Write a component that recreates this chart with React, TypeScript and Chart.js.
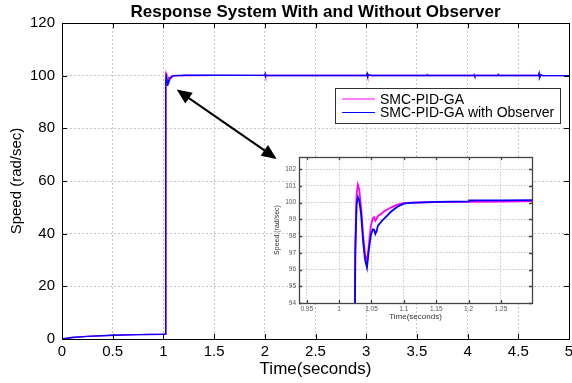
import React, { useEffect, useRef } from "react";
import { Chart, registerables } from "chart.js";

Chart.register(...registerables);

// ---- data ----
const timeSec = [
  0, 0.1, 0.25, 0.5, 0.75, 1.0, 1.02, 1.022, 1.025, 1.027, 1.029, 1.031, 1.034, 1.037, 1.04,
  1.043, 1.046, 1.049, 1.052, 1.054, 1.056, 1.058, 1.06, 1.063, 1.066, 1.07, 1.075, 1.08,
  1.09, 1.1, 1.11, 1.15, 1.2, 1.201, 1.25, 1.3, 1.5, 2.0, 2.004, 2.008, 2.015, 3.0, 3.01,
  3.015, 3.025, 3.05, 3.6, 3.605, 3.61, 4.06, 4.065, 4.07, 4.08, 4.3, 4.305, 4.31, 4.7,
  4.705, 4.71, 4.72, 4.74, 5.0,
];
const speedGA = [
  0, 0.55, 1.0, 1.4, 1.65, 1.82, 1.9, 80, 97.6, 100.5, 101.07, 100.8, 99.7, 98.1, 96.9,
  96.47, 97.5, 98.6, 99.05, 99.13, 98.92, 99.05, 99.2, 99.27, 99.36, 99.48, 99.6, 99.7,
  99.87, 99.97, 100.0, 100.02, 100.04, 100.04, 100.06, 100.08, 100.1, 100.1, 100.5, 99.8,
  100.05, 100.05, 100.6, 99.7, 100.2, 100.05, 100.05, 100.2, 100.05, 100.05, 100.3, 99.85,
  100.05, 100.05, 100.25, 100.05, 100.05, 100.7, 99.4, 100.2, 100.0, 100.0,
];
const speedObserver = [
  0, 0.55, 1.0, 1.4, 1.65, 1.82, 1.9, 78, 97.0, 99.9, 100.33, 100.15, 99.3, 97.7, 96.6,
  96.11, 97.2, 98.05, 98.4, 98.38, 98.13, 98.3, 98.62, 98.75, 98.9, 99.05, 99.25, 99.45,
  99.75, 99.93, 99.98, 100.04, 100.07, 100.13, 100.13, 100.15, 100.15, 100.1, 100.6, 99.7,
  100.1, 100.05, 100.8, 99.6, 100.3, 100.05, 100.05, 100.25, 100.05, 100.05, 100.35, 99.85,
  100.05, 100.05, 100.3, 100.05, 100.05, 100.8, 99.3, 100.3, 100.0, 100.0,
];

const seriesNames = ["SMC-PID-GA", "SMC-PID-GA with Observer"];
const seriesColors = ["#ff00ff", "#0000ff"];

const chartTitle = "Response System With and Without Observer";
const xTitle = "Time(seconds)";
const yTitle = "Speed (rad/sec)";

const mainXRange = [0, 5];
const mainYRange = [0, 120];
const mainXStep = 0.5;
const mainYStep = 20;

const insetXRange = [0.938, 1.298];
const insetYRange = [94, 102.72];
const insetXStep = 0.05;
const insetYStep = 1;

// arrow end points, in data units (time, speed)
const arrowTimes = [1.131, 2.117];
const arrowSpeeds = [94.7, 68.4];

const FONT = "'Liberation Sans', Arial, Helvetica, sans-serif";

function points(ys: number[]) {
  return timeSec.map((t, i) => ({ x: t, y: ys[i] }));
}

const plainNumber = (v: any) => String(+Number(v).toFixed(3));

const noPadX = (h: number) => (s: any) => {
  s.height = h;
  s.paddingLeft = 0;
  s.paddingRight = 0;
};
const noPadY = (w: number) => (s: any) => {
  s.width = w;
  s.paddingTop = 0;
  s.paddingBottom = 0;
};

function drawBoxAndTicks(chart: any, tickLen: number, color: string, width: number) {
  const { ctx, chartArea: a, scales } = chart;
  const x = scales.x;
  const y = scales.y;
  ctx.save();
  ctx.strokeStyle = color;
  ctx.lineWidth = width;
  ctx.beginPath();
  for (const t of x.ticks) {
    const px = Math.round(x.getPixelForValue(t.value)) + 0.5;
    ctx.moveTo(px, a.bottom);
    ctx.lineTo(px, a.bottom - tickLen);
    ctx.moveTo(px, a.top);
    ctx.lineTo(px, a.top + tickLen);
  }
  for (const t of y.ticks) {
    const py = Math.round(y.getPixelForValue(t.value)) + 0.5;
    ctx.moveTo(a.left, py);
    ctx.lineTo(a.left + tickLen, py);
    ctx.moveTo(a.right, py);
    ctx.lineTo(a.right - tickLen, py);
  }
  ctx.stroke();
  ctx.strokeRect(
    Math.round(a.left) + 0.5,
    Math.round(a.top) + 0.5,
    Math.round(a.right - a.left),
    Math.round(a.bottom - a.top)
  );
  ctx.restore();
}

function drawArrowHead(ctx: CanvasRenderingContext2D, tx: number, ty: number, fx: number, fy: number) {
  const ang = Math.atan2(ty - fy, tx - fx);
  const len = 15;
  const half = 6.5;
  const bx = tx - len * Math.cos(ang);
  const by = ty - len * Math.sin(ang);
  ctx.beginPath();
  ctx.moveTo(tx, ty);
  ctx.lineTo(bx + half * Math.sin(ang), by - half * Math.cos(ang));
  ctx.lineTo(bx - half * Math.sin(ang), by + half * Math.cos(ang));
  ctx.closePath();
  ctx.fill();
}

const mainDecor = {
  id: "mainDecor",
  afterDraw(chart: any) {
    const { ctx, chartArea: a, scales } = chart;
    drawBoxAndTicks(chart, 5, "#000", 1);

    ctx.save();
    // title
    ctx.fillStyle = "#000";
    ctx.font = `bold 17px ${FONT}`;
    ctx.textAlign = "center";
    ctx.textBaseline = "middle";
    ctx.fillText(chartTitle, (a.left + a.right) / 2, a.top - 11);

    // double-headed arrow
    const x1 = scales.x.getPixelForValue(arrowTimes[0]);
    const y1 = scales.y.getPixelForValue(arrowSpeeds[0]);
    const x2 = scales.x.getPixelForValue(arrowTimes[1]);
    const y2 = scales.y.getPixelForValue(arrowSpeeds[1]);
    ctx.strokeStyle = "#000";
    ctx.fillStyle = "#000";
    ctx.lineWidth = 2;
    const ang = Math.atan2(y2 - y1, x2 - x1);
    ctx.beginPath();
    ctx.moveTo(x1 + 10 * Math.cos(ang), y1 + 10 * Math.sin(ang));
    ctx.lineTo(x2 - 10 * Math.cos(ang), y2 - 10 * Math.sin(ang));
    ctx.stroke();
    drawArrowHead(ctx, x1, y1, x2, y2);
    drawArrowHead(ctx, x2, y2, x1, y1);

    // legend box
    const lx = a.right - 234;
    const ly = a.top + 65;
    const lw = 225;
    const lh = 35;
    ctx.fillStyle = "#fff";
    ctx.fillRect(lx, ly, lw, lh);
    ctx.strokeStyle = "#333";
    ctx.lineWidth = 1;
    ctx.strokeRect(Math.round(lx) + 0.5, Math.round(ly) + 0.5, lw, lh);
    ctx.font = `14px ${FONT}`;
    ctx.textAlign = "left";
    ctx.textBaseline = "middle";
    seriesNames.forEach((name, i) => {
      const rowY = ly + 11 + i * 13.5;
      ctx.strokeStyle = seriesColors[i];
      ctx.lineWidth = 1.2;
      ctx.beginPath();
      ctx.moveTo(lx + 7, rowY);
      ctx.lineTo(lx + 40, rowY);
      ctx.stroke();
      ctx.fillStyle = "#000";
      ctx.fillText(name, lx + 45, rowY + 1);
    });
    ctx.restore();
  },
};

const insetDecor = {
  id: "insetDecor",
  beforeDraw(chart: any) {
    const { ctx, chartArea: a } = chart;
    ctx.save();
    ctx.fillStyle = "#fff";
    ctx.fillRect(a.left, a.top, a.right - a.left, a.bottom - a.top);
    ctx.restore();
  },
  afterDraw(chart: any) {
    drawBoxAndTicks(chart, 3, "#444", 1.3);
  },
};

function makeDatasets(width: number) {
  // blue (observer) on top of magenta
  return [
    {
      label: seriesNames[1],
      data: points(speedObserver),
      borderColor: seriesColors[1],
      borderWidth: width,
      pointRadius: 0,
      tension: 0,
      order: 1,
    },
    {
      label: seriesNames[0],
      data: points(speedGA),
      borderColor: seriesColors[0],
      borderWidth: width,
      pointRadius: 0,
      tension: 0,
      order: 2,
    },
  ];
}

export default function App() {
  const mainRef = useRef<HTMLCanvasElement>(null);
  const insetRef = useRef<HTMLCanvasElement>(null);

  useEffect(() => {
    const gridDash = [2, 2];
    const main = new Chart(mainRef.current!, {
      type: "line",
      data: { datasets: makeDatasets(1.4) as any },
      options: {
        responsive: false,
        animation: false,
        events: [],
        layout: { padding: { left: 0, right: 3, top: 23, bottom: 0 } },
        plugins: { legend: { display: false }, tooltip: { enabled: false }, title: { display: false } },
        scales: {
          x: {
            type: "linear",
            min: mainXRange[0],
            max: mainXRange[1],
            afterFit: noPadX(44),
            ticks: {
              stepSize: mainXStep,
              autoSkip: false,
              maxRotation: 0,
              padding: 4,
              color: "#000",
              font: { family: FONT, size: 15 },
              callback: plainNumber,
            },
            grid: { color: "#c4c4c4", lineWidth: 1, drawTicks: false },
            border: { display: false, dash: gridDash },
            title: {
              display: true,
              text: xTitle,
              color: "#000",
              font: { family: FONT, size: 17 },
              padding: { top: 0, bottom: 3 },
            },
          },
          y: {
            type: "linear",
            min: mainYRange[0],
            max: mainYRange[1],
            afterFit: noPadY(62),
            ticks: {
              stepSize: mainYStep,
              padding: 7,
              color: "#000",
              font: { family: FONT, size: 15 },
              callback: plainNumber,
            },
            grid: { color: "#c4c4c4", lineWidth: 1, drawTicks: false },
            border: { display: false, dash: gridDash },
            title: {
              display: true,
              text: yTitle,
              color: "#000",
              font: { family: FONT, size: 15 },
              padding: { top: 8, bottom: 0 },
            },
          },
        },
      },
      plugins: [mainDecor],
    });

    const inset = new Chart(insetRef.current!, {
      type: "line",
      data: { datasets: makeDatasets(1.8) as any },
      options: {
        responsive: false,
        animation: false,
        events: [],
        layout: { padding: { left: 0, right: 13, top: 7, bottom: 0 } },
        plugins: { legend: { display: false }, tooltip: { enabled: false }, title: { display: false } },
        scales: {
          x: {
            type: "linear",
            min: insetXRange[0],
            max: insetXRange[1],
            afterFit: noPadX(27),
            ticks: {
              stepSize: insetXStep,
              includeBounds: false,
              autoSkip: false,
              maxRotation: 0,
              padding: 2,
              color: "#555",
              font: { family: FONT, size: 6.5 },
              callback: plainNumber,
            },
            grid: { color: "#c8c8c8", lineWidth: 1, drawTicks: false },
            border: { display: false, dash: [1.5, 1.5] },
            title: {
              display: true,
              text: xTitle,
              color: "#333",
              font: { family: FONT, size: 8 },
              padding: { top: 0, bottom: 8 },
            },
          },
          y: {
            type: "linear",
            min: insetYRange[0],
            max: insetYRange[1],
            afterFit: noPadY(37),
            ticks: {
              stepSize: insetYStep,
              includeBounds: false,
              padding: 3,
              color: "#555",
              font: { family: FONT, size: 6.5 },
              callback: plainNumber,
            },
            grid: { color: "#c8c8c8", lineWidth: 1, drawTicks: false },
            border: { display: false, dash: [1.5, 1.5] },
            title: {
              display: true,
              text: yTitle,
              color: "#333",
              font: { family: FONT, size: 7 },
              padding: { top: 11, bottom: 0 },
            },
          },
        },
      },
      plugins: [insetDecor],
    });

    return () => {
      main.destroy();
      inset.destroy();
    };
  }, []);

  return (
    <div style={{ position: "absolute", left: 0, top: 0, width: 572, height: 383, background: "#fff" }}>
      <canvas ref={mainRef} width={572} height={383} style={{ position: "absolute", left: 0, top: 0 }} />
      <canvas ref={insetRef} width={283} height={180} style={{ position: "absolute", left: 262, top: 150 }} />
    </div>
  );
}
